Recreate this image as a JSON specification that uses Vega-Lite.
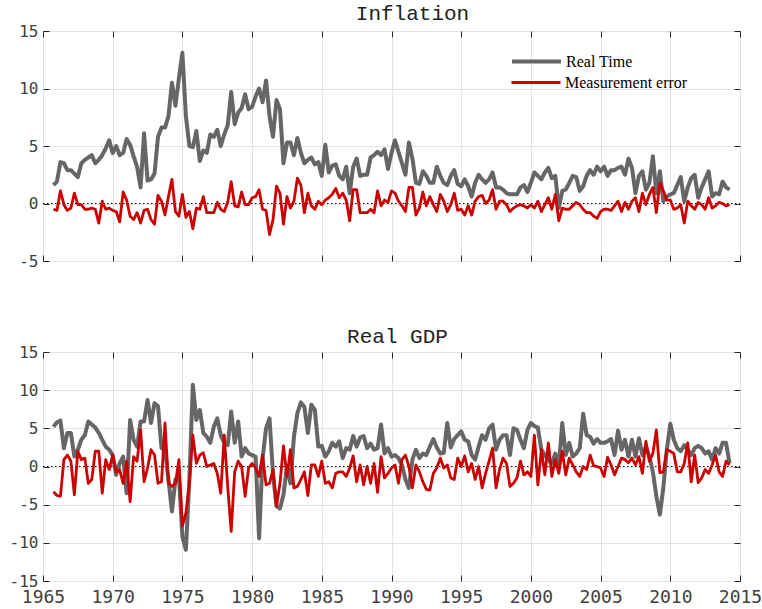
{
  "$schema": "https://vega.github.io/schema/vega-lite/v6.json",
  "background": "white",
  "padding": {"left": 6, "top": 2, "right": 5, "bottom": 2},
  "config": {
    "view": {"stroke": "#262626", "strokeWidth": 1},
    "axis": {"labelFont": "DejaVu Sans Mono", "labelFontSize": 16, "labelColor": "#404040", "gridColor": "#e3e3e3", "gridWidth": 1, "tickColor": "#262626", "domain": false, "labelFlush": false},
    "title": {"font": "Liberation Mono", "fontSize": 21, "fontWeight": "normal", "color": "#222222"},
    "concat": {"spacing": 55}
  },
  "resolve": {"scale": {"color": "independent", "stroke": "independent"}, "legend": {"color": "independent", "stroke": "independent"}},
  "datasets": {
    "inf": [
      {"t":1965.75,"rt":1.6,"me":-0.5},
      {"t":1966,"rt":1.9,"me":-0.6},{"t":1966.25,"rt":3.6,"me":1.1},{"t":1966.5,"rt":3.5,"me":-0.1},{"t":1966.75,"rt":2.9,"me":-0.6},
      {"t":1967,"rt":2.9,"me":-0.4},{"t":1967.25,"rt":2.6,"me":0.9},{"t":1967.5,"rt":2.3,"me":-0.1},{"t":1967.75,"rt":3.5,"me":-0.1},
      {"t":1968,"rt":3.8,"me":-0.5},{"t":1968.25,"rt":4.0,"me":-0.5},{"t":1968.5,"rt":4.2,"me":-0.4},{"t":1968.75,"rt":3.5,"me":-0.5},
      {"t":1969,"rt":3.8,"me":-1.7},{"t":1969.25,"rt":4.2,"me":0.2},{"t":1969.5,"rt":4.8,"me":-0.5},{"t":1969.75,"rt":5.5,"me":-0.4},
      {"t":1970,"rt":4.4,"me":-0.6},{"t":1970.25,"rt":5.0,"me":-0.7},{"t":1970.5,"rt":4.2,"me":-1.6},{"t":1970.75,"rt":4.4,"me":1.0},
      {"t":1971,"rt":5.6,"me":0.3},{"t":1971.25,"rt":5.1,"me":-1.1},{"t":1971.5,"rt":4.1,"me":-1.4},{"t":1971.75,"rt":3.2,"me":-0.8},
      {"t":1972,"rt":1.4,"me":-1.7},{"t":1972.25,"rt":6.1,"me":-0.6},{"t":1972.5,"rt":2.0,"me":-0.5},{"t":1972.75,"rt":2.1,"me":-1.4},
      {"t":1973,"rt":2.6,"me":-1.8},{"t":1973.25,"rt":5.8,"me":0.7},{"t":1973.5,"rt":6.6,"me":0.2},{"t":1973.75,"rt":6.6,"me":-1.0},
      {"t":1974,"rt":7.6,"me":0.6},{"t":1974.25,"rt":10.5,"me":2.1},{"t":1974.5,"rt":8.5,"me":-0.7},{"t":1974.75,"rt":10.9,"me":-1.1},
      {"t":1975,"rt":13.1,"me":0.8},{"t":1975.25,"rt":7.6,"me":-1.2},{"t":1975.5,"rt":5.0,"me":-0.7},{"t":1975.75,"rt":4.9,"me":-2.2},
      {"t":1976,"rt":6.3,"me":-0.4},{"t":1976.25,"rt":3.7,"me":-0.5},{"t":1976.5,"rt":4.6,"me":0.6},{"t":1976.75,"rt":4.4,"me":-0.8},
      {"t":1977,"rt":6.0,"me":-0.8},{"t":1977.25,"rt":5.8,"me":-0.8},{"t":1977.5,"rt":6.4,"me":0.1},{"t":1977.75,"rt":5.0,"me":-0.5},
      {"t":1978,"rt":6.0,"me":-0.7},{"t":1978.25,"rt":6.8,"me":0.1},{"t":1978.5,"rt":9.7,"me":1.9},{"t":1978.75,"rt":6.9,"me":-0.2},
      {"t":1979,"rt":7.9,"me":-0.3},{"t":1979.25,"rt":8.3,"me":1.0},{"t":1979.5,"rt":9.5,"me":-0.1},{"t":1979.75,"rt":8.2,"me":-0.1},
      {"t":1980,"rt":8.4,"me":0.5},{"t":1980.25,"rt":9.3,"me":0.6},{"t":1980.5,"rt":10.0,"me":1.2},{"t":1980.75,"rt":8.8,"me":-0.5},
      {"t":1981,"rt":10.7,"me":-0.6},{"t":1981.25,"rt":7.6,"me":-2.7},{"t":1981.5,"rt":5.8,"me":-1.4},{"t":1981.75,"rt":9.0,"me":1.5},
      {"t":1982,"rt":8.2,"me":0.9},{"t":1982.25,"rt":3.5,"me":-1.8},{"t":1982.5,"rt":5.3,"me":0.6},{"t":1982.75,"rt":5.3,"me":-0.4},
      {"t":1983,"rt":4.2,"me":0.2},{"t":1983.25,"rt":5.7,"me":2.2},{"t":1983.5,"rt":4.4,"me":1.6},{"t":1983.75,"rt":3.5,"me":-0.8},
      {"t":1984,"rt":3.8,"me":0.9},{"t":1984.25,"rt":4.0,"me":-0.2},{"t":1984.5,"rt":3.4,"me":-0.5},{"t":1984.75,"rt":3.6,"me":0.2},
      {"t":1985,"rt":2.4,"me":-0.1},{"t":1985.25,"rt":5.1,"me":0.3},{"t":1985.5,"rt":2.7,"me":0.5},{"t":1985.75,"rt":3.3,"me":0.8},
      {"t":1986,"rt":3.4,"me":1.3},{"t":1986.25,"rt":2.4,"me":0.5},{"t":1986.5,"rt":2.1,"me":0.9},{"t":1986.75,"rt":3.2,"me":0.3},
      {"t":1987,"rt":0.9,"me":-1.5},{"t":1987.25,"rt":3.2,"me":1.2},{"t":1987.5,"rt":3.9,"me":1.2},{"t":1987.75,"rt":2.4,"me":-0.8},
      {"t":1988,"rt":2.5,"me":-0.8},{"t":1988.25,"rt":2.5,"me":-0.8},{"t":1988.5,"rt":4.0,"me":-0.5},{"t":1988.75,"rt":4.2,"me":-0.8},
      {"t":1989,"rt":4.5,"me":1.1},{"t":1989.25,"rt":4.2,"me":-0.2},{"t":1989.5,"rt":4.7,"me":0.3},{"t":1989.75,"rt":3.0,"me":0.1},
      {"t":1990,"rt":4.4,"me":1.1},{"t":1990.25,"rt":5.5,"me":0.9},{"t":1990.5,"rt":4.5,"me":0.2},{"t":1990.75,"rt":3.5,"me":-0.2},
      {"t":1991,"rt":2.5,"me":-0.7},{"t":1991.25,"rt":5.3,"me":1.4},{"t":1991.5,"rt":3.9,"me":1.4},{"t":1991.75,"rt":1.8,"me":-1.0},
      {"t":1992,"rt":1.7,"me":-0.4},{"t":1992.25,"rt":2.8,"me":1.0},{"t":1992.5,"rt":2.4,"me":-0.2},{"t":1992.75,"rt":1.8,"me":0.6},
      {"t":1993,"rt":1.8,"me":-0.1},{"t":1993.25,"rt":3.2,"me":-0.7},{"t":1993.5,"rt":2.4,"me":0.8},{"t":1993.75,"rt":1.8,"me":0.2},
      {"t":1994,"rt":1.6,"me":-0.7},{"t":1994.25,"rt":2.4,"me":-0.1},{"t":1994.5,"rt":2.9,"me":0.9},{"t":1994.75,"rt":1.7,"me":-0.6},
      {"t":1995,"rt":1.5,"me":-0.5},{"t":1995.25,"rt":2.1,"me":-1.0},{"t":1995.5,"rt":1.5,"me":-0.2},{"t":1995.75,"rt":0.6,"me":-1.0},
      {"t":1996,"rt":1.8,"me":0.2},{"t":1996.25,"rt":2.5,"me":0.6},{"t":1996.5,"rt":2.1,"me":0.7},{"t":1996.75,"rt":1.8,"me":0.0},
      {"t":1997,"rt":2.1,"me":0.3},{"t":1997.25,"rt":2.7,"me":1.2},{"t":1997.5,"rt":1.4,"me":-0.5},{"t":1997.75,"rt":1.4,"me":0.2},
      {"t":1998,"rt":1.2,"me":0.2},{"t":1998.25,"rt":0.9,"me":-0.1},{"t":1998.5,"rt":0.8,"me":-0.7},{"t":1998.75,"rt":0.8,"me":-0.4},
      {"t":1999,"rt":0.8,"me":-0.2},{"t":1999.25,"rt":1.4,"me":-0.1},{"t":1999.5,"rt":1.6,"me":-0.2},{"t":1999.75,"rt":1.0,"me":-0.4},
      {"t":2000,"rt":1.8,"me":-0.1},{"t":2000.25,"rt":2.7,"me":-0.4},{"t":2000.5,"rt":2.4,"me":0.2},{"t":2000.75,"rt":2.1,"me":-0.7},
      {"t":2001,"rt":2.7,"me":-0.1},{"t":2001.25,"rt":3.1,"me":0.5},{"t":2001.5,"rt":2.2,"me":-0.5},{"t":2001.75,"rt":2.4,"me":0.8},
      {"t":2002,"rt":-0.4,"me":-1.5},{"t":2002.25,"rt":1.1,"me":-0.4},{"t":2002.5,"rt":1.2,"me":-0.5},{"t":2002.75,"rt":1.8,"me":-0.5},
      {"t":2003,"rt":2.4,"me":-0.2},{"t":2003.25,"rt":2.3,"me":0.1},{"t":2003.5,"rt":1.1,"me":-0.1},{"t":2003.75,"rt":1.5,"me":-0.5},
      {"t":2004,"rt":2.4,"me":-0.8},{"t":2004.25,"rt":2.9,"me":-0.8},{"t":2004.5,"rt":2.5,"me":-1.1},{"t":2004.75,"rt":3.2,"me":-1.3},
      {"t":2005,"rt":2.8,"me":-0.7},{"t":2005.25,"rt":3.2,"me":-0.5},{"t":2005.5,"rt":2.4,"me":-0.5},{"t":2005.75,"rt":2.9,"me":-0.6},
      {"t":2006,"rt":2.9,"me":-0.2},{"t":2006.25,"rt":3.1,"me":0.2},{"t":2006.5,"rt":3.2,"me":-0.7},{"t":2006.75,"rt":2.5,"me":0.1},
      {"t":2007,"rt":3.9,"me":-0.5},{"t":2007.25,"rt":3.1,"me":0.2},{"t":2007.5,"rt":0.9,"me":0.5},{"t":2007.75,"rt":2.4,"me":-0.7},
      {"t":2008,"rt":2.8,"me":0.9},{"t":2008.25,"rt":1.2,"me":-0.1},{"t":2008.5,"rt":1.8,"me":0.8},{"t":2008.75,"rt":4.1,"me":1.4},
      {"t":2009,"rt":0.9,"me":-0.8},{"t":2009.25,"rt":2.8,"me":1.8},{"t":2009.5,"rt":0.2,"me":1.1},{"t":2009.75,"rt":0.6,"me":0.3},
      {"t":2010,"rt":0.8,"me":0.3},{"t":2010.25,"rt":0.9,"me":-0.5},{"t":2010.5,"rt":1.6,"me":-0.4},{"t":2010.75,"rt":2.3,"me":-0.1},
      {"t":2011,"rt":0.2,"me":-1.7},{"t":2011.25,"rt":1.4,"me":0.2},{"t":2011.5,"rt":2.2,"me":-0.2},{"t":2011.75,"rt":2.5,"me":-0.5},
      {"t":2012,"rt":0.5,"me":0.1},{"t":2012.25,"rt":1.4,"me":-0.1},{"t":2012.5,"rt":2.1,"me":-0.5},{"t":2012.75,"rt":2.8,"me":0.5},
      {"t":2013,"rt":0.6,"me":-0.4},{"t":2013.25,"rt":0.9,"me":-0.2},{"t":2013.5,"rt":0.8,"me":0.1},{"t":2013.75,"rt":1.9,"me":0.0},
      {"t":2014,"rt":1.4,"me":-0.2},{"t":2014.25,"rt":1.2,"me":-0.1}
    ],
    "gdp": [
      {"t":1965.75,"rt":5.2,"me":-3.3},
      {"t":1966,"rt":5.8,"me":-3.8},{"t":1966.25,"rt":6.0,"me":-3.9},{"t":1966.5,"rt":2.4,"me":0.9},{"t":1966.75,"rt":4.4,"me":1.5},
      {"t":1967,"rt":4.4,"me":0.7},{"t":1967.25,"rt":1.3,"me":-3.7},{"t":1967.5,"rt":2.2,"me":2.0},{"t":1967.75,"rt":3.5,"me":0.9},
      {"t":1968,"rt":4.1,"me":1.1},{"t":1968.25,"rt":5.9,"me":-2.2},{"t":1968.5,"rt":5.5,"me":-1.7},{"t":1968.75,"rt":5.1,"me":2.0},
      {"t":1969,"rt":4.4,"me":2.0},{"t":1969.25,"rt":3.5,"me":-3.5},{"t":1969.5,"rt":2.6,"me":0.9},{"t":1969.75,"rt":2.2,"me":-0.4},
      {"t":1970,"rt":1.5,"me":1.5},{"t":1970.25,"rt":-1.1,"me":-0.7},{"t":1970.5,"rt":0.4,"me":-0.4},{"t":1970.75,"rt":1.3,"me":-2.2},
      {"t":1971,"rt":-3.5,"me":0.7},{"t":1971.25,"rt":6.1,"me":-4.6},{"t":1971.5,"rt":3.5,"me":1.3},{"t":1971.75,"rt":2.6,"me":0.7},
      {"t":1972,"rt":5.9,"me":4.8},{"t":1972.25,"rt":5.9,"me":-2.0},{"t":1972.5,"rt":8.7,"me":-0.2},{"t":1972.75,"rt":5.7,"me":2.2},
      {"t":1973,"rt":8.3,"me":1.5},{"t":1973.25,"rt":7.9,"me":-2.2},{"t":1973.5,"rt":2.4,"me":-2.0},{"t":1973.75,"rt":2.2,"me":5.7},
      {"t":1974,"rt":-1.7,"me":-2.2},{"t":1974.25,"rt":-5.9,"me":-2.6},{"t":1974.5,"rt":-1.7,"me":-2.2},{"t":1974.75,"rt":-1.3,"me":0.9},
      {"t":1975,"rt":-9.2,"me":-7.8},{"t":1975.25,"rt":-10.9,"me":-6.1},{"t":1975.5,"rt":-1.7,"me":-2.2},{"t":1975.75,"rt":10.7,"me":4.1},
      {"t":1976,"rt":6.1,"me":0.4},{"t":1976.25,"rt":7.4,"me":1.5},{"t":1976.5,"rt":4.4,"me":1.8},{"t":1976.75,"rt":3.9,"me":0.0},
      {"t":1977,"rt":3.1,"me":0.2},{"t":1977.25,"rt":5.2,"me":0.4},{"t":1977.5,"rt":6.3,"me":-0.9},{"t":1977.75,"rt":4.1,"me":-3.5},
      {"t":1978,"rt":3.1,"me":4.1},{"t":1978.25,"rt":2.8,"me":-2.6},{"t":1978.5,"rt":7.2,"me":-8.5},{"t":1978.75,"rt":3.1,"me":-0.7},
      {"t":1979,"rt":5.9,"me":0.7},{"t":1979.25,"rt":1.3,"me":0.0},{"t":1979.5,"rt":2.4,"me":-3.9},{"t":1979.75,"rt":1.7,"me":-0.2},
      {"t":1980,"rt":1.5,"me":0.4},{"t":1980.25,"rt":1.3,"me":-0.2},{"t":1980.5,"rt":-9.4,"me":-1.3},{"t":1980.75,"rt":1.0,"me":1.5},
      {"t":1981,"rt":5.0,"me":-2.4},{"t":1981.25,"rt":6.3,"me":-2.2},{"t":1981.5,"rt":-1.0,"me":-0.4},{"t":1981.75,"rt":-5.2,"me":-5.2},
      {"t":1982,"rt":-5.5,"me":-2.2},{"t":1982.25,"rt":-3.7,"me":2.7},{"t":1982.5,"rt":0.0,"me":-1.3},{"t":1982.75,"rt":-2.2,"me":2.2},
      {"t":1983,"rt":3.9,"me":-2.8},{"t":1983.25,"rt":7.0,"me":-2.6},{"t":1983.5,"rt":8.4,"me":-1.7},{"t":1983.75,"rt":7.8,"me":-0.7},
      {"t":1984,"rt":4.4,"me":-3.8},{"t":1984.25,"rt":8.1,"me":0.2},{"t":1984.5,"rt":7.4,"me":0.2},{"t":1984.75,"rt":2.6,"me":-1.3},
      {"t":1985,"rt":2.7,"me":0.7},{"t":1985.25,"rt":1.3,"me":-2.2},{"t":1985.5,"rt":2.0,"me":-2.0},{"t":1985.75,"rt":3.1,"me":-2.8},
      {"t":1986,"rt":2.6,"me":-0.9},{"t":1986.25,"rt":3.3,"me":-0.7},{"t":1986.5,"rt":1.1,"me":-0.7},{"t":1986.75,"rt":2.4,"me":-1.3},
      {"t":1987,"rt":2.2,"me":-0.2},{"t":1987.25,"rt":4.0,"me":1.4},{"t":1987.5,"rt":2.6,"me":-2.0},{"t":1987.75,"rt":3.8,"me":0.2},
      {"t":1988,"rt":4.0,"me":-2.4},{"t":1988.25,"rt":2.4,"me":0.0},{"t":1988.5,"rt":3.0,"me":-2.2},{"t":1988.75,"rt":2.2,"me":0.4},
      {"t":1989,"rt":2.4,"me":-3.4},{"t":1989.25,"rt":5.5,"me":1.3},{"t":1989.5,"rt":1.7,"me":-1.5},{"t":1989.75,"rt":2.4,"me":-0.9},
      {"t":1990,"rt":1.3,"me":-0.2},{"t":1990.25,"rt":1.5,"me":0.2},{"t":1990.5,"rt":1.1,"me":-2.2},{"t":1990.75,"rt":0.2,"me":0.9},
      {"t":1991,"rt":-1.7,"me":1.5},{"t":1991.25,"rt":-2.8,"me":0.0},{"t":1991.5,"rt":0.9,"me":-2.8},{"t":1991.75,"rt":2.2,"me":0.2},
      {"t":1992,"rt":1.1,"me":-0.7},{"t":1992.25,"rt":1.7,"me":-2.0},{"t":1992.5,"rt":1.5,"me":-3.0},{"t":1992.75,"rt":2.6,"me":-3.1},
      {"t":1993,"rt":3.6,"me":-0.9},{"t":1993.25,"rt":2.5,"me":-0.2},{"t":1993.5,"rt":1.7,"me":1.1},{"t":1993.75,"rt":1.8,"me":-0.2},
      {"t":1994,"rt":5.7,"me":0.2},{"t":1994.25,"rt":2.5,"me":-1.5},{"t":1994.5,"rt":3.6,"me":-1.7},{"t":1994.75,"rt":4.1,"me":1.1},
      {"t":1995,"rt":4.6,"me":0.0},{"t":1995.25,"rt":3.5,"me":1.4},{"t":1995.5,"rt":3.3,"me":-0.7},{"t":1995.75,"rt":1.5,"me":0.4},
      {"t":1996,"rt":0.9,"me":-1.7},{"t":1996.25,"rt":2.6,"me":0.0},{"t":1996.5,"rt":4.1,"me":-2.8},{"t":1996.75,"rt":3.5,"me":-0.9},
      {"t":1997,"rt":5.0,"me":0.7},{"t":1997.25,"rt":5.5,"me":2.4},{"t":1997.5,"rt":2.2,"me":-2.8},{"t":1997.75,"rt":3.5,"me":-0.4},
      {"t":1998,"rt":4.1,"me":1.1},{"t":1998.25,"rt":4.1,"me":0.4},{"t":1998.5,"rt":1.5,"me":-2.6},{"t":1998.75,"rt":5.0,"me":-2.2},
      {"t":1999,"rt":4.8,"me":-1.5},{"t":1999.25,"rt":3.5,"me":0.7},{"t":1999.5,"rt":2.4,"me":-1.1},{"t":1999.75,"rt":4.8,"me":-0.7},
      {"t":2000,"rt":5.7,"me":-1.3},{"t":2000.25,"rt":5.3,"me":4.1},{"t":2000.5,"rt":5.1,"me":-2.4},{"t":2000.75,"rt":2.2,"me":2.2},
      {"t":2001,"rt":1.5,"me":-1.1},{"t":2001.25,"rt":0.8,"me":3.1},{"t":2001.5,"rt":0.4,"me":-1.3},{"t":2001.75,"rt":1.7,"me":0.9},
      {"t":2002,"rt":0.0,"me":-0.9},{"t":2002.25,"rt":5.7,"me":2.0},{"t":2002.5,"rt":1.5,"me":-1.1},{"t":2002.75,"rt":3.1,"me":1.1},
      {"t":2003,"rt":1.3,"me":0.2},{"t":2003.25,"rt":1.7,"me":-0.7},{"t":2003.5,"rt":2.4,"me":-1.3},{"t":2003.75,"rt":6.9,"me":0.0},
      {"t":2004,"rt":4.1,"me":-0.4},{"t":2004.25,"rt":3.9,"me":1.5},{"t":2004.5,"rt":3.0,"me":0.1},{"t":2004.75,"rt":3.6,"me":0.0},
      {"t":2005,"rt":3.1,"me":-0.2},{"t":2005.25,"rt":3.1,"me":-1.3},{"t":2005.5,"rt":3.3,"me":1.2},{"t":2005.75,"rt":3.6,"me":0.2},
      {"t":2006,"rt":1.5,"me":-1.1},{"t":2006.25,"rt":4.7,"me":0.0},{"t":2006.5,"rt":2.2,"me":1.1},{"t":2006.75,"rt":3.5,"me":0.9},
      {"t":2007,"rt":1.3,"me":0.5},{"t":2007.25,"rt":3.5,"me":1.1},{"t":2007.5,"rt":1.3,"me":0.2},{"t":2007.75,"rt":3.7,"me":1.3},
      {"t":2008,"rt":1.5,"me":-0.9},{"t":2008.25,"rt":2.6,"me":3.3},{"t":2008.5,"rt":1.3,"me":0.7},{"t":2008.75,"rt":-0.7,"me":1.7},
      {"t":2009,"rt":-3.9,"me":4.8},{"t":2009.25,"rt":-6.3,"me":-0.8},{"t":2009.5,"rt":-2.8,"me":-0.7},{"t":2009.75,"rt":2.2,"me":2.2},
      {"t":2010,"rt":5.6,"me":2.0},{"t":2010.25,"rt":3.5,"me":1.7},{"t":2010.5,"rt":2.4,"me":-0.7},{"t":2010.75,"rt":2.0,"me":-0.7},
      {"t":2011,"rt":2.8,"me":0.4},{"t":2011.25,"rt":2.2,"me":3.1},{"t":2011.5,"rt":1.5,"me":-2.0},{"t":2011.75,"rt":2.4,"me":1.5},
      {"t":2012,"rt":2.7,"me":-2.1},{"t":2012.25,"rt":2.4,"me":-1.5},{"t":2012.5,"rt":1.7,"me":-0.4},{"t":2012.75,"rt":2.0,"me":-0.9},
      {"t":2013,"rt":0.9,"me":0.2},{"t":2013.25,"rt":2.4,"me":1.5},{"t":2013.5,"rt":1.7,"me":-0.7},{"t":2013.75,"rt":3.1,"me":-1.3},
      {"t":2014,"rt":3.1,"me":0.7},{"t":2014.25,"rt":0.4,"me":0.2}
    ]
  },
  "vconcat": [
    {
      "title": {"text": "Inflation", "dx": 21, "offset": -1},
      "width": 697,
      "height": 230,
      "resolve": {"axis": {"x": "independent", "y": "independent"}},
      "layer": [
        {
          "data": {"values": [{"z": 0}]},
          "mark": {"type": "rule", "color": "#000000", "strokeWidth": 1, "strokeDash": [1.5, 2.5]},
          "encoding": {
            "x": {"datum": 1965, "type": "quantitative", "scale": {"domain": [1965, 2015], "nice": false, "zero": false}, "axis": {"orient": "top", "values": [1965,1970,1975,1980,1985,1990,1995,2000,2005,2010,2015], "labels": false, "grid": false, "tickSize": -6, "title": null, "minExtent": 0, "maxExtent": 0}},
            "x2": {"datum": 2015},
            "y": {"datum": 0, "type": "quantitative", "scale": {"domain": [-5, 15], "nice": false}, "axis": {"orient": "right", "values": [-5,0,5,10,15], "labels": false, "grid": false, "tickSize": -6, "title": null, "minExtent": 0, "maxExtent": 0}}
          }
        },
        {
          "data": {"name": "inf"},
          "mark": {"type": "line", "strokeWidth": 4, "strokeJoin": "round"},
          "encoding": {
            "x": {"field": "t", "type": "quantitative", "scale": {"domain": [1965, 2015], "nice": false, "zero": false}, "axis": {"orient": "bottom", "values": [1965,1970,1975,1980,1985,1990,1995,2000,2005,2010,2015], "labels": false, "grid": true, "tickSize": -6, "title": null, "minExtent": 0, "maxExtent": 0}},
            "y": {"field": "rt", "type": "quantitative", "scale": {"domain": [-5, 15], "nice": false}, "axis": {"orient": "left", "values": [-5,0,5,10,15], "grid": true, "tickSize": -6, "labelPadding": 11, "labelExpr": "'' + datum.value", "title": null, "minExtent": 36, "maxExtent": 36}},
            "color": {"datum": "Real Time", "scale": {"domain": ["Real Time"], "range": ["#666666"]}, "legend": {"orient": "none", "legendX": 467, "legendY": 4, "title": null, "symbolType": "stroke", "symbolSize": 2401, "symbolStrokeWidth": 4, "labelFont": "Liberation Serif", "labelFontSize": 16, "labelColor": "#000000", "labelOffset": 3, "padding": 0}}
          }
        },
        {
          "data": {"name": "inf"},
          "mark": {"type": "line", "strokeWidth": 2.8, "strokeJoin": "round"},
          "encoding": {
            "x": {"field": "t", "type": "quantitative", "axis": null},
            "y": {"field": "me", "type": "quantitative", "axis": null},
            "stroke": {"datum": "Measurement error", "scale": {"domain": ["Measurement error"], "range": ["#cc0000"]}, "legend": {"orient": "none", "legendX": 467, "legendY": 25.5, "title": null, "symbolType": "stroke", "symbolSize": 2401, "symbolStrokeWidth": 3, "labelFont": "Liberation Serif", "labelFontSize": 16, "labelColor": "#000000", "labelOffset": 3, "padding": 0}}
          }
        }
      ]
    },
    {
      "title": {"text": "Real GDP", "dx": 6, "offset": -3},
      "width": 697,
      "height": 229,
      "resolve": {"axis": {"x": "independent", "y": "independent"}},
      "layer": [
        {
          "data": {"values": [{"z": 0}]},
          "mark": {"type": "rule", "color": "#000000", "strokeWidth": 1, "strokeDash": [1.5, 2.5]},
          "encoding": {
            "x": {"datum": 1965, "type": "quantitative", "scale": {"domain": [1965, 2015], "nice": false, "zero": false}, "axis": {"orient": "top", "values": [1965,1970,1975,1980,1985,1990,1995,2000,2005,2010,2015], "labels": false, "grid": false, "tickSize": -6, "title": null, "minExtent": 0, "maxExtent": 0}},
            "x2": {"datum": 2015},
            "y": {"datum": 0, "type": "quantitative", "scale": {"domain": [-15, 15], "nice": false}, "axis": {"orient": "right", "values": [-15,-10,-5,0,5,10,15], "labels": false, "grid": false, "tickSize": -6, "title": null, "minExtent": 0, "maxExtent": 0}}
          }
        },
        {
          "data": {"name": "gdp"},
          "mark": {"type": "line", "strokeWidth": 4, "strokeJoin": "round"},
          "encoding": {
            "x": {"field": "t", "type": "quantitative", "scale": {"domain": [1965, 2015], "nice": false, "zero": false}, "axis": {"orient": "bottom", "values": [1965,1970,1975,1980,1985,1990,1995,2000,2005,2010,2015], "grid": true, "tickSize": -6, "labelPadding": 13, "labelDx": 4, "labelFontSize": 18, "labelExpr": "'' + datum.value", "title": null}},
            "y": {"field": "rt", "type": "quantitative", "scale": {"domain": [-15, 15], "nice": false}, "axis": {"orient": "left", "values": [-15,-10,-5,0,5,10,15], "grid": true, "tickSize": -6, "labelPadding": 11, "labelExpr": "'' + datum.value", "title": null, "minExtent": 36, "maxExtent": 36}},
            "color": {"datum": "Real Time", "scale": {"domain": ["Real Time"], "range": ["#666666"]}, "legend": null}
          }
        },
        {
          "data": {"name": "gdp"},
          "mark": {"type": "line", "strokeWidth": 2.8, "strokeJoin": "round"},
          "encoding": {
            "x": {"field": "t", "type": "quantitative", "axis": null},
            "y": {"field": "me", "type": "quantitative", "axis": null},
            "stroke": {"datum": "Measurement error", "scale": {"domain": ["Measurement error"], "range": ["#cc0000"]}, "legend": null}
          }
        }
      ]
    }
  ]
}
